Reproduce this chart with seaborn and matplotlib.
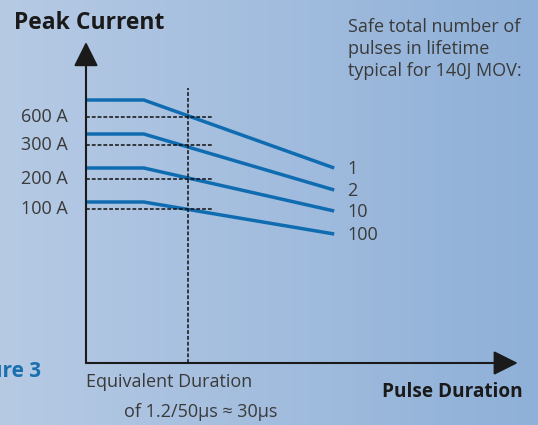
import numpy as np
import pandas as pd
import seaborn as sns
import matplotlib.pyplot as plt
from matplotlib.colors import LinearSegmentedColormap

# schematic units: x = pulse duration (equivalent 1.2/50us pulse at 30), y = peak current level
knee_x = 17
end_x = 73
equiv_x = 30
ref_end_x = 37
x_tip = 127
y_tip = 321

pulse_counts = ['1', '2', '10', '100']
flat_levels = [263, 229, 195, 161]
end_levels = [195, 173, 152, 129]

tick_labels = ['600 A', '300 A', '200 A', '100 A']
tick_levels = [246, 218, 184, 154]
vline_top = 275

rows = []
for name, y0, y1 in zip(pulse_counts, flat_levels, end_levels):
    rows.append({'dur': 0, 'cur': y0, 'n': name})
    rows.append({'dur': knee_x, 'cur': y0, 'n': name})
    rows.append({'dur': end_x, 'cur': y1, 'n': name})
df = pd.DataFrame(rows)

sns.set_style('white')
plt.rcParams['font.family'] = ['Open Sans', 'DejaVu Sans']

fig = plt.figure(figsize=(5.38, 4.25), dpi=100)

# background gradient
bg = fig.add_axes([0, 0, 1, 1])
grad = np.linspace(0, 1, 256).reshape(1, -1)
cmap = LinearSegmentedColormap.from_list('bg', ['#b6cae4', '#8fb0d8'])
bg.imshow(grad, aspect='auto', cmap=cmap, extent=[0, 1, 0, 1])
bg.set_axis_off()

# main axes, origin at the axis corner
x0, y0 = 86 / 538, 62 / 425
ax = fig.add_axes([x0, y0, (538 - 86) / 538, 363 / 425])
ax.patch.set_alpha(0)
ax.set_xlim(0, 452 / 3.4)
ax.set_ylim(0, 363)
for s in ax.spines.values():
    s.set_visible(False)
ax.set_xticks([])
ax.set_yticks([])

sns.lineplot(data=df, x='dur', y='cur', units='n', estimator=None, color='#0f6cb0',
             lw=2.5, ax=ax, legend=False, solid_capstyle='butt')
ax.set_xlabel('')
ax.set_ylabel('')

# reference dashed lines
for lab, ty in zip(tick_labels, tick_levels):
    ax.plot([0, ref_end_x], [ty, ty], ls=(0, (2.5, 1.3)), color='#111111', lw=1.1)
    ax.text(-5.3, ty, lab, ha='right', va='center', fontsize=13, color='#3a3a3a')
ax.plot([equiv_x, equiv_x], [0, vline_top], ls=(0, (2.5, 1.3)), color='#111111', lw=1.1)

for name, y1 in zip(pulse_counts, end_levels):
    ax.text(end_x + 3.8, y1 - 1, name, ha='left', va='center', fontsize=13, color='#3a3a3a')

# axes with arrow heads
arrow = dict(arrowstyle='-|>,head_length=1.5,head_width=0.75', lw=1.5, color='#1a1a1a',
             shrinkA=0, shrinkB=0, mutation_scale=10)
ax.annotate('', xy=(0, y_tip), xytext=(0, 0), arrowprops=arrow)
ax.annotate('', xy=(x_tip, 0), xytext=(0, 0), arrowprops=arrow)

# texts
fig.text(14 / 538, 1 - 23 / 425, 'Peak Current', ha='left', va='center', fontsize=16.5,
         fontweight='bold', color='#1a1a1a')
fig.text(348 / 538, 1 - 49 / 425,
         'Safe total number of\npulses in lifetime\ntypical for 140J MOV:',
         ha='left', va='center', fontsize=13, color='#3a3a3a', linespacing=1.28)
fig.text(523 / 538, 1 - 392 / 425, 'Pulse Duration', ha='right', va='center', fontsize=13.7,
         fontweight='bold', color='#1a1a1a')
fig.text(86 / 538, 1 - 382 / 425, 'Equivalent Duration', ha='left', va='center',
         fontsize=13, color='#3a3a3a')
fig.text(124 / 538, 1 - 412 / 425, 'of 1.2/50µs ≈ 30µs', ha='left', va='center',
         fontsize=13, color='#3a3a3a')
fig.text(41 / 538, 1 - 372 / 425, 'Figure 3', ha='right', va='center', fontsize=15,
         fontweight='bold', color='#1a6fb0')

fig.savefig('out.png', dpi=100)
